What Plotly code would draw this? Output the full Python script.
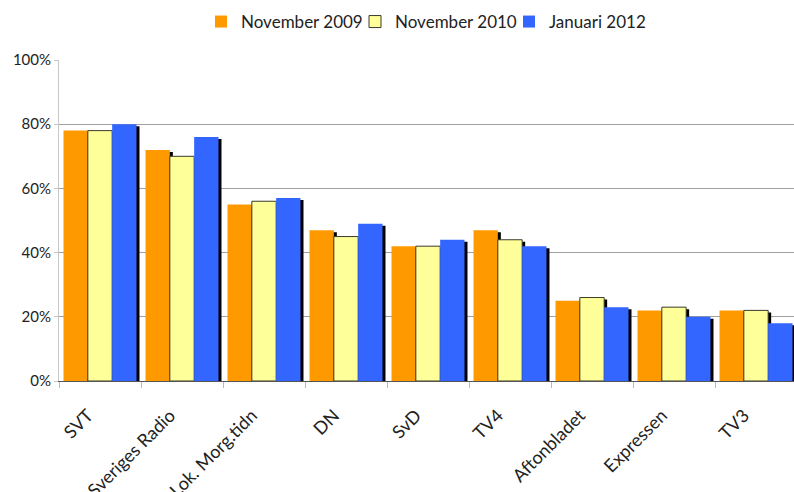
import plotly.graph_objects as go

categories = ["SVT", "Sveriges Radio", "Lok. Morg.tidn", "DN", "SvD", "TV4",
              "Aftonbladet", "Expressen", "TV3"]
series_names = ["November 2009", "November 2010", "Januari 2012"]
nov_2009 = [78, 72, 55, 47, 42, 47, 25, 22, 22]
nov_2010 = [78, 70, 56, 45, 42, 44, 26, 23, 22]
jan_2012 = [80, 76, 57, 49, 44, 42, 23, 20, 18]
y_ticks = [0, 20, 40, 60, 80, 100]

colors = ["#FF9900", "#FFFF99", "#3366FF"]
outlines = [None, "#3a3a2a", None]

W, H = 794, 492
ML, MR, MT, MB = 59, 0, 60, 111
plot_w = W - ML - MR
plot_h = H - MT - MB
cat_px = 82.0
x_end = -0.5 + plot_w / cat_px
dx = 3.0 / cat_px           # shadow shift right (category units)
dy = 2.0 * 100 / plot_h     # shadow shift down (percent units)

FONT = "Lato"

fig = go.Figure()
all_series = [nov_2009, nov_2010, jan_2012]

# shadows (base axes, drawn below)
for name, vals in zip(series_names, all_series):
    fig.add_trace(go.Bar(x=categories, y=vals, name=name, showlegend=False,
                         marker=dict(color="black", line=dict(width=0)),
                         xaxis="x", yaxis="y", hoverinfo="skip"))

# real bars (overlay axes)
for name, vals, c, oc in zip(series_names, all_series, colors, outlines):
    line = dict(color=oc, width=1) if oc else dict(width=0)
    fig.add_trace(go.Bar(x=categories, y=vals, name=name,
                         marker=dict(color=c, line=line),
                         xaxis="x2", yaxis="y2"))

fig.update_layout(
    width=W, height=H,
    margin=dict(l=ML, r=MR, t=MT, b=MB, autoexpand=False),
    paper_bgcolor="white", plot_bgcolor="white",
    barmode="group", bargap=0.11, bargroupgap=0,
    font=dict(family=FONT, size=15, color="#222222"),
    showlegend=True,
    legend=dict(orientation="h", xref="container", yref="container",
                x=201 / W, xanchor="left",
                y=1 - 22 / H, yanchor="middle",
                font=dict(family=FONT, size=17, color="#222222"),
                traceorder="normal", entrywidth=109, entrywidthmode="pixels",
                bgcolor="rgba(0,0,0,0)"),
    xaxis=dict(type="category", range=[-0.5 - dx, x_end - dx], visible=False,
               showgrid=False, fixedrange=True),
    yaxis=dict(range=[dy, 100 + dy], visible=False, showgrid=False),
    xaxis2=dict(type="category", overlaying="x", anchor="y2", side="bottom",
                range=[-0.5, x_end], tickson="boundaries",
                ticks="outside", ticklen=6, tickcolor="#bbbbbb", tickwidth=1,
                tickangle=-45, showline=True, linecolor="#555555", linewidth=1,
                showgrid=False, automargin=False,
                ticklabelstandoff=16, ticklabelshift=-12,
                tickfont=dict(family=FONT, size=18, color="#222222")),
    yaxis2=dict(overlaying="y", anchor="x2", side="left", range=[0, 100],
                tickvals=y_ticks, ticktext=[f"{v}%" for v in y_ticks],
                showgrid=True, gridcolor="#a0a0a0", gridwidth=1,
                showline=True, linecolor="#c8c8c8", linewidth=1,
                ticks="outside", ticklen=4, tickcolor="#c8c8c8",
                zeroline=False, automargin=False,
                tickfont=dict(family=FONT, size=15, color="#222222")),
)

fig.write_html(
    "out.html",
    config={"displayModeBar": False, "staticPlot": True},
    post_script="document.body.style.margin='0';document.body.style.overflow='hidden';",
)
